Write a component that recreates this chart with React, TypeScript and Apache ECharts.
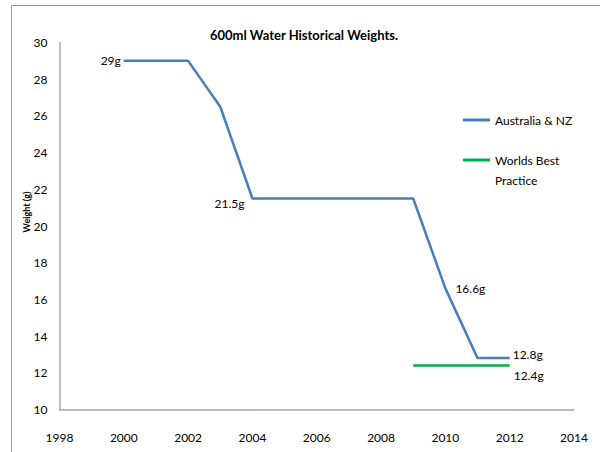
import React, { useEffect, useRef } from "react";
import * as echarts from "echarts";

const title = "600ml Water Historical Weights.";
const yAxisName = "Weight (g)";
const seriesNames = ["Australia & NZ", "Worlds Best Practice"];
const ausYears = [2000, 2002, 2003, 2004, 2009, 2010, 2011, 2012];
const ausWeights = [29, 29, 26.5, 21.5, 21.5, 16.6, 12.8, 12.8];
const bestYears = [2009, 2012];
const bestWeights = [12.4, 12.4];

const FONT = "Lato, 'Open Sans', sans-serif";

export default function App() {
  const ref = useRef<HTMLDivElement>(null);
  useEffect(() => {
    document.body.style.margin = "0";
    const chart = echarts.init(ref.current!, null, { renderer: "svg" });
    const ausLabels: Record<number, any> = {
      0: { show: true, position: "left", distance: 3 },
      3: { show: true, position: "left", distance: 8, offset: [0, 5] },
      5: { show: true, position: "right", distance: 10 },
      7: { show: true, position: "right", distance: 3, offset: [0, -4] },
    };
    chart.setOption({
      animation: false,
      textStyle: { fontFamily: FONT },
      title: {
        text: title,
        left: 299,
        textAlign: "center",
        top: 23,
        textStyle: { fontFamily: FONT, fontSize: 13, fontWeight: "bold", color: "#000" },
      },
      grid: { left: 59.5, right: 26, top: 42.5, bottom: 42.5 },
      graphic: [
        {
          type: "rect",
          shape: { x: 11.5, y: 5.5, width: 700, height: 600 },
          style: { fill: "none", stroke: "#9a9a9a", lineWidth: 1 },
          silent: true,
        },
      ],
      legend: {
        orient: "vertical",
        left: 463,
        top: 110,
        padding: 0,
        itemWidth: 27,
        itemHeight: 3,
        itemGap: 0,
        icon: "rect",
        textStyle: { fontFamily: FONT, fontSize: 12, color: "#000", lineHeight: 20 },
        formatter: (n: string) => (n === seriesNames[1] ? "\nWorlds Best\nPractice" : n),
        data: [{ name: seriesNames[0] }, { name: seriesNames[1] }],
      },
      xAxis: {
        type: "value",
        min: 1998,
        max: 2014,
        interval: 2,
        splitLine: { show: false },
        axisTick: { show: false },
        axisLine: { show: true, lineStyle: { color: "#a8a8a8", width: 1.5 } },
        axisLabel: {
          color: "#000",
          fontSize: 12,
          margin: 22,
          fontFamily: FONT,
          formatter: (v: number) => String(v),
        },
      },
      yAxis: {
        type: "value",
        min: 10,
        max: 30,
        interval: 2,
        name: yAxisName,
        nameLocation: "middle",
        nameGap: 29,
        nameMoveOverlap: false,
        nameTextStyle: { fontSize: 9, fontWeight: "bold", color: "#000", fontFamily: FONT, padding: [0, 0, 0, 28] },
        splitLine: { show: false },
        axisTick: { show: false },
        axisLine: { show: true, lineStyle: { color: "#a8a8a8", width: 1.5 } },
        axisLabel: { color: "#000", fontSize: 12, margin: 12, fontFamily: FONT },
      },
      series: [
        {
          name: seriesNames[0],
          type: "line",
          symbol: "circle",
          symbolSize: 0,
          showSymbol: true,
          lineStyle: { color: "#4a7ebb", width: 2.5 },
          itemStyle: { color: "#4a7ebb" },
          data: ausYears.map((y, i) => ({
            value: [y, ausWeights[i]],
            label: ausLabels[i]
              ? {
                  ...ausLabels[i],
                  formatter: `${ausWeights[i]}g`,
                  color: "#000",
                  fontSize: 12,
                  fontFamily: FONT,
                }
              : { show: false },
          })),
        },
        {
          name: seriesNames[1],
          type: "line",
          symbol: "circle",
          symbolSize: 0,
          showSymbol: true,
          lineStyle: { color: "#00b050", width: 2.5 },
          itemStyle: { color: "#00b050" },
          data: bestYears.map((y, i) => ({
            value: [y, bestWeights[i]],
            label:
              i === bestYears.length - 1
                ? {
                    show: true,
                    position: "right",
                    distance: 4,
                    offset: [0, 10],
                    formatter: `${bestWeights[i]}g`,
                    color: "#000",
                    fontSize: 12,
                    fontFamily: FONT,
                  }
                : { show: false },
          })),
        },
      ],
    });
    return () => chart.dispose();
  }, []);
  return <div ref={ref} style={{ width: 600, height: 452 }} />;
}
